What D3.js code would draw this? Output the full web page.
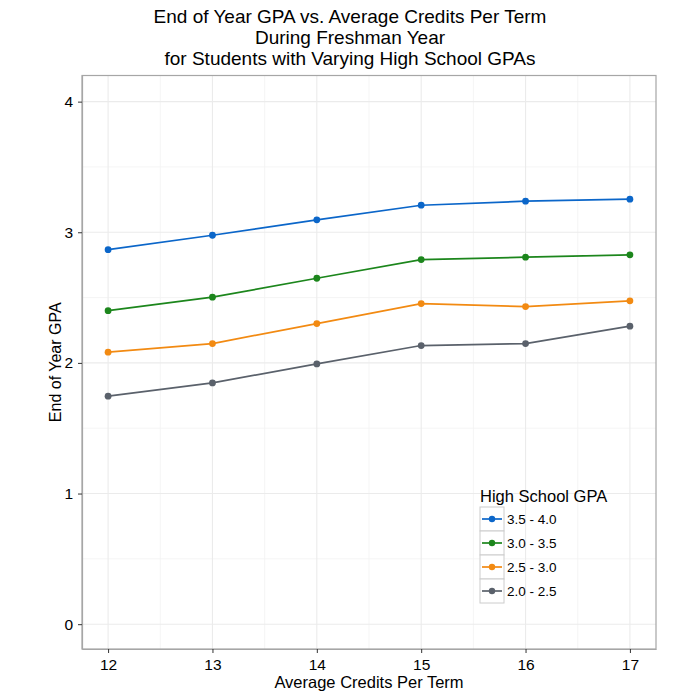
<!DOCTYPE html>
<html><head><meta charset="utf-8">
<script src="https://cdn.jsdelivr.net/npm/d3@7/dist/d3.min.js"></script>
<style>body{margin:0;background:#fff}svg{display:block;font-family:"Liberation Sans",Arial,sans-serif}</style>
</head><body>
<script>
const credits = [12, 13, 14, 15, 16, 17];
const groups = ["3.5 - 4.0", "3.0 - 3.5", "2.5 - 3.0", "2.0 - 2.5"];
const gpa35_40 = [2.867, 2.977, 3.095, 3.207, 3.238, 3.253];
const gpa30_35 = [2.400, 2.503, 2.648, 2.791, 2.809, 2.827];
const gpa25_30 = [2.082, 2.148, 2.301, 2.454, 2.431, 2.475];
const gpa20_25 = [1.745, 1.847, 1.992, 2.133, 2.148, 2.281];
const seriesValues = [gpa35_40, gpa30_35, gpa25_30, gpa20_25];
const colors = ["#0b66c9", "#1c861c", "#f28a12", "#5a616b"];
const yTicks = [0, 1, 2, 3, 4];
const titleLines = ["End of Year GPA vs. Average Credits Per Term", "During Freshman Year", "for Students with Varying High School GPAs"];

const W = 700, H = 700;
const L = 82, R = 656, T = 75.5, B = 649;
const svg = d3.select("body").append("svg").attr("width", W).attr("height", H);

const x = d3.scaleLinear().domain([11.75, 17.25]).range([L, R]);
const y = d3.scaleLinear().domain([-0.19, 4.2]).range([B, T]);

// grid
const g = svg.append("g");
const xMinor = d3.range(11.5, 17.6, 1).filter(v => v > 11.75 && v < 17.25);
const yMinor = d3.range(-0.5, 4.6, 1).filter(v => v > -0.19 && v < 4.2);
g.selectAll(".xm").data(xMinor).enter().append("line")
  .attr("x1", d => x(d)).attr("x2", d => x(d)).attr("y1", T).attr("y2", B)
  .attr("stroke", "#f2f2f2").attr("stroke-width", 0.8);
g.selectAll(".ym").data(yMinor).enter().append("line")
  .attr("y1", d => y(d)).attr("y2", d => y(d)).attr("x1", L).attr("x2", R)
  .attr("stroke", "#f2f2f2").attr("stroke-width", 0.8);
g.selectAll(".xg").data(credits).enter().append("line")
  .attr("x1", d => x(d)).attr("x2", d => x(d)).attr("y1", T).attr("y2", B)
  .attr("stroke", "#ebebeb").attr("stroke-width", 1.1);
g.selectAll(".yg").data(yTicks).enter().append("line")
  .attr("y1", d => y(d)).attr("y2", d => y(d)).attr("x1", L).attr("x2", R)
  .attr("stroke", "#ebebeb").attr("stroke-width", 1.1);

// panel border
svg.append("rect").attr("x", L).attr("y", T).attr("width", R - L).attr("height", B - T)
  .attr("fill", "none").attr("stroke", "#a6a6a6").attr("stroke-width", 1.2);

// axes
const xAxis = svg.append("g").attr("transform", `translate(0,${B})`)
  .call(d3.axisBottom(x).tickValues(credits).tickSizeInner(4).tickSizeOuter(0).tickPadding(6).tickFormat(d3.format("d")));
const yAxis = svg.append("g").attr("transform", `translate(${L},0)`)
  .call(d3.axisLeft(y).tickValues(yTicks).tickSizeInner(4).tickSizeOuter(0).tickPadding(5).tickFormat(d3.format("d")));
[xAxis, yAxis].forEach(a => {
  a.select(".domain").attr("stroke", "#a6a6a6").attr("stroke-width", 1.2);
  a.selectAll(".tick line").attr("stroke", "#333").attr("stroke-width", 1);
  a.selectAll(".tick text").attr("fill", "#000").style("font-size", "15.5px")
    .style("font-family", '"Liberation Sans",Arial,sans-serif');
});

// lines and points
const line = d3.line().x((d, i) => x(credits[i])).y(d => y(d));
seriesValues.forEach((vals, si) => {
  svg.append("path").datum(vals).attr("d", line)
    .attr("fill", "none").attr("stroke", colors[si]).attr("stroke-width", 1.7);
  svg.selectAll(".pt" + si).data(vals).enter().append("circle")
    .attr("cx", (d, i) => x(credits[i])).attr("cy", d => y(d)).attr("r", 3.4)
    .attr("fill", colors[si]);
});

// titles
const title = svg.append("text").attr("text-anchor", "middle").attr("font-size", "19px").attr("fill", "#000");
titleLines.forEach((t, i) => {
  title.append("tspan").attr("x", 350).attr("y", 23 + i * 21.2).text(t);
});
svg.append("text").attr("x", (L + R) / 2).attr("y", 688).attr("text-anchor", "middle")
  .attr("font-size", "16.5px").text("Average Credits Per Term");
svg.append("text").attr("transform", `translate(60.5,${(T + B) / 2}) rotate(-90)`)
  .attr("text-anchor", "middle").attr("font-size", "16px").text("End of Year GPA");

// legend
const lg = svg.append("g").attr("transform", "translate(480,507)");
lg.append("text").attr("x", 0).attr("y", -5.5).attr("font-size", "16.5px").text("High School GPA");
groups.forEach((name, i) => {
  const k = lg.append("g").attr("transform", `translate(0,${i * 24})`);
  k.append("rect").attr("x", 0).attr("y", 0).attr("width", 24).attr("height", 24)
    .attr("fill", "#fff").attr("stroke", "#cccccc").attr("stroke-width", 1);
  k.append("line").attr("x1", 2).attr("x2", 22).attr("y1", 12).attr("y2", 12)
    .attr("stroke", colors[i]).attr("stroke-width", 1.7);
  k.append("circle").attr("cx", 12).attr("cy", 12).attr("r", 3.2).attr("fill", colors[i]);
  k.append("text").attr("x", 27).attr("y", 12).attr("dy", "0.36em").attr("font-size", "13.5px").text(name);
});
</script>
</body></html>
